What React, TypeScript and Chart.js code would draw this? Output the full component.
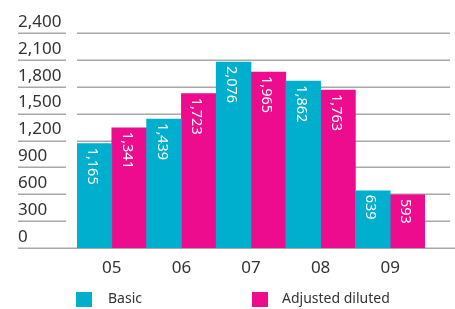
import React, { useEffect, useRef } from "react";
import { Chart, registerables } from "chart.js";

Chart.register(...registerables);

const categories = ["05", "06", "07", "08", "09"];
const basicValues = [1165, 1439, 2076, 1862, 639];
const adjustedDilutedValues = [1341, 1723, 1965, 1763, 593];
const seriesNames = ["Basic", "Adjusted diluted"];
const yTickValues = [0, 300, 600, 900, 1200, 1500, 1800, 2100, 2400];

const CYAN = "#00AFCE";
const MAGENTA = "#EC0C8D";
const GRID = "#A8A8A8";
const TEXT = "#333333";
const FONT = "'Noto Sans', 'Open Sans', sans-serif";

const fmt = (v: number) => v.toLocaleString("en-US");

const gridPlugin = {
  id: "customGrid",
  beforeDatasetsDraw(chart: any) {
    const { ctx, chartArea } = chart;
    const y = chart.scales.y;
    ctx.save();
    ctx.strokeStyle = GRID;
    ctx.lineWidth = 1.5;
    yTickValues.forEach((v) => {
      const py = Math.round(y.getPixelForValue(v)) + 0.25;
      ctx.beginPath();
      if (v === 0) {
        ctx.moveTo(18, py);
        ctx.lineTo(455, py);
      } else {
        ctx.moveTo(18, py);
        ctx.lineTo(66, py);
        ctx.moveTo(chartArea.left, py);
        ctx.lineTo(450, py);
      }
      ctx.stroke();
    });
    ctx.restore();
  },
};

const barLabelPlugin = {
  id: "barLabels",
  afterDatasetsDraw(chart: any) {
    const { ctx } = chart;
    ctx.save();
    ctx.fillStyle = "#FFFFFF";
    ctx.font = `14.5px ${FONT}`;
    ctx.textAlign = "left";
    ctx.textBaseline = "alphabetic";
    chart.data.datasets.forEach((ds: any, di: number) => {
      const meta = chart.getDatasetMeta(di);
      meta.data.forEach((bar: any, i: number) => {
        ctx.save();
        ctx.translate(bar.x - 6.5, bar.y + 4);
        ctx.rotate(Math.PI / 2);
        ctx.fillText(fmt(ds.data[i]), 0, 0);
        ctx.restore();
      });
    });
    ctx.restore();
  },
};

const legendPlugin = {
  id: "customLegend",
  afterDraw(chart: any) {
    const { ctx } = chart;
    const items = [
      { name: seriesNames[0], color: CYAN, bx: 76, tx: 108 },
      { name: seriesNames[1], color: MAGENTA, bx: 252, tx: 282 },
    ];
    ctx.save();
    ctx.font = `14px ${FONT}`;
    ctx.textAlign = "left";
    ctx.textBaseline = "middle";
    items.forEach((it) => {
      ctx.fillStyle = it.color;
      ctx.fillRect(it.bx, 292, 16, 15);
      ctx.fillStyle = TEXT;
      ctx.fillText(it.name, it.tx, 299.5);
    });
    ctx.restore();
  },
};

export default function App() {
  const canvasRef = useRef<HTMLCanvasElement | null>(null);

  useEffect(() => {
    document.body.style.margin = "0";
    document.body.style.background = "#ffffff";
    const canvas = canvasRef.current;
    if (!canvas) return;
    const chart = new Chart(canvas, {
      type: "bar",
      data: {
        labels: categories,
        datasets: [
          {
            label: seriesNames[0],
            data: basicValues,
            backgroundColor: CYAN,
            borderWidth: 0,
            categoryPercentage: 1,
            barPercentage: 1,
          },
          {
            label: seriesNames[1],
            data: adjustedDilutedValues,
            backgroundColor: MAGENTA,
            borderWidth: 0,
            categoryPercentage: 1,
            barPercentage: 1,
          },
        ],
      },
      options: {
        responsive: false,
        animation: false,
        layout: { padding: { left: 18, right: 30, top: 33, bottom: 0 } },
        plugins: {
          legend: { display: false },
          tooltip: { enabled: false },
        },
        scales: {
          x: {
            grid: { display: false, drawTicks: false },
            border: { display: false },
            ticks: {
              color: TEXT,
              font: { family: FONT, size: 17 },
              padding: 10,
              maxRotation: 0,
            },
            afterFit: (scale: any) => {
              scale.height = 61;
            },
          },
          y: {
            min: 0,
            max: 2400,
            grid: { display: false, drawTicks: false },
            border: { display: false },
            ticks: {
              stepSize: 300,
              color: TEXT,
              font: { family: FONT, size: 17 },
              crossAlign: "far",
              labelOffset: -11,
              callback: (v: any) => fmt(Number(v)),
            },
            afterFit: (scale: any) => {
              scale.width = 59;
            },
          },
        },
      },
      plugins: [gridPlugin, barLabelPlugin, legendPlugin],
    });
    return () => chart.destroy();
  }, []);

  return (
    <div style={{ position: "absolute", left: 0, top: 0, width: 455, height: 309, background: "#fff" }}>
      <canvas ref={canvasRef} width={455} height={309} style={{ width: 455, height: 309 }} />
    </div>
  );
}
